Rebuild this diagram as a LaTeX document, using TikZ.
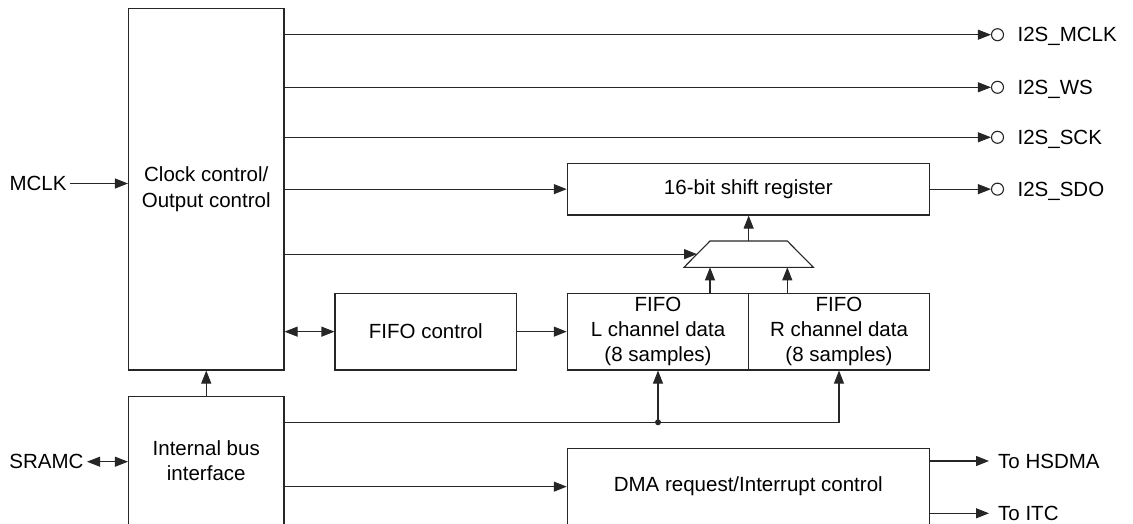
\documentclass[tikz,border=0pt]{standalone}
\usepackage{fontspec}
\setmainfont{Liberation Sans}
\usetikzlibrary{arrows.meta,calc}
\begin{document}
\begin{tikzpicture}[x=1pt,y=-1pt,
  every node/.style={font=\fontsize{20.5}{25.3}\selectfont},
  ln/.style={line width=1.1pt, draw=black!85},
  box/.style={ln, rectangle, inner sep=0pt, align=center},
  arr/.style={ln, -{Triangle[length=13pt,width=10pt]}},
  dbl/.style={ln, {Triangle[length=13pt,width=10pt]}-{Triangle[length=13pt,width=10pt]}},
  pinc/.style={ln, circle, minimum size=12pt, inner sep=0pt},
  lbl/.style={anchor=base west, inner sep=0pt},
]
\useasboundingbox (0,0) rectangle (1133,524);
\clip (0,0) rectangle (1133,524);

% boxes
\node[box, minimum width=155.5pt, minimum height=361.7pt] (clk) at (206.25,189.15) {Clock control/\\Output control};
\node[box, minimum width=155.5pt, minimum height=128.3pt] (bus) at (206.25,460.85) {Internal bus\\interface};
\node[box, minimum width=362pt, minimum height=51.7pt] (shift) at (748.3,189.15) {16-bit shift register};
\node[box, minimum width=181.7pt, minimum height=76.7pt] (fctl) at (425.85,331.65) {FIFO control};
\node[box, minimum width=181.4pt, minimum height=76.7pt] (fl) at (658,331.65) {FIFO\\L channel data\\(8 samples)};
\node[box, minimum width=180.6pt, minimum height=76.7pt] (fr) at (839,331.65) {FIFO\\R channel data\\(8 samples)};
\node[box, minimum width=362pt, minimum height=76.7pt] (dma) at (748.3,486.65) {DMA request/Interrupt control};

% multiplexer
\coordinate (muxBL) at (684,267.3);
\coordinate (muxTL) at (710,241);
\coordinate (muxTR) at (787.3,241);
\coordinate (muxBR) at (813.3,267.3);
\coordinate (muxL) at (697,254.15);
\coordinate (muxT) at (748.65,241);
\draw[ln, line join=miter] (muxBL) -- (muxTL) -- (muxTR) -- (muxBR) -- cycle;

% output pins
\node[pinc] (o1) at (997.5,34.7) {};
\node[pinc] (o2) at (997.5,87.3) {};
\node[pinc] (o3) at (997.5,137.3) {};
\node[pinc] (o4) at (997.5,189.15) {};
\node[lbl] (l1) at (1017.4,42.0) {I2S\_MCLK};
\node[lbl] (l2) at (1017.4,94.6) {I2S\_WS};
\node[lbl] (l3) at (1017.4,144.6) {I2S\_SCK};
\node[lbl] (l4) at (1017.4,196.5) {I2S\_SDO};

% left labels
\node (mclk) at (38,183.5) {MCLK};
\node (sramc) at (46.5,461.7) {SRAMC};

% right labels of DMA
\node[lbl] (hs) at (998,468) {To HSDMA};
\node[lbl] (itc) at (998,520) {To ITC};
\coordinate (hsA) at (989,461);
\coordinate (itcA) at (989,513.3);

% connectors
\draw[arr] (clk.east |- o1) -- (o1.west);
\draw[arr] (clk.east |- o2) -- (o2.west);
\draw[arr] (clk.east |- o3) -- (o3.west);
\draw[arr] (shift.east) -- (o4.west);
\draw[arr] (clk.east |- shift.west) -- (shift.west);
\draw[arr] (clk.east |- muxL) -- (muxL);
\draw[arr] (muxT) -- (muxT |- shift.south);
\draw[arr] (fl.north -| muxTL) -- (muxTL |- muxBL);
\draw[arr] (fr.north -| muxTR) -- (muxTR |- muxBR);
\draw[dbl] (clk.east |- fctl.west) -- (fctl.west);
\draw[arr] (fctl.east) -- (fl.west);
\draw[arr] (bus.north) -- (clk.south);
\coordinate (j) at (658,422.3);
\draw[arr] (bus.east |- j) -- (j -| fr.south) -- (fr.south);
\draw[arr] (j) -- (fl.south);
\fill[black!85] (j) circle (3pt);
\draw[arr] (bus.east |- dma.west) -- (dma.west);
\draw[arr] (dma.east |- hsA) -- (hsA);
\draw[arr] (dma.east |- itcA) -- (itcA);
\draw[arr] (mclk.east) -- (clk.west |- mclk.east);
\draw[dbl] (sramc.east) -- (bus.west |- sramc.east);
\end{tikzpicture}
\end{document}
